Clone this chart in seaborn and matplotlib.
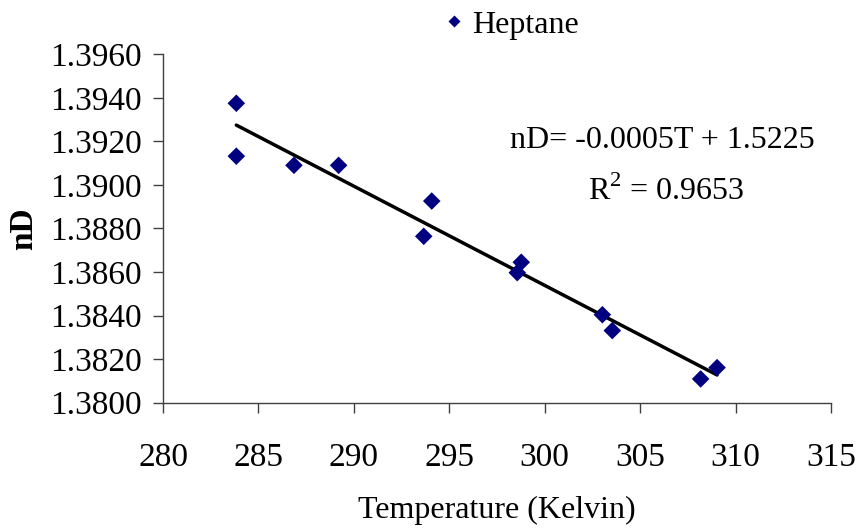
import matplotlib
matplotlib.use("Agg")
import matplotlib.pyplot as plt
from matplotlib.lines import Line2D
import seaborn as sns
import pandas as pd

# Refractive index of heptane versus temperature
temperature_k = [283.84, 283.84, 286.86, 289.20, 294.08, 293.66,
                 298.77, 298.56, 303.02, 303.54, 308.17, 309.03]
refractive_index = [1.39375, 1.39132, 1.39090, 1.39090, 1.38926, 1.38764,
                    1.38645, 1.38597, 1.38404, 1.38331, 1.38109, 1.38161]
series_name = "Heptane"
x_ticks = [280, 285, 290, 295, 300, 305, 310, 315]
y_ticks = [1.3800, 1.3820, 1.3840, 1.3860, 1.3880, 1.3900, 1.3920, 1.3940, 1.3960]
fit_equation = "nD= -0.0005T + 1.5225"
fit_r2 = "R$^2$ = 0.9653"

df = pd.DataFrame({"T": temperature_k, "nD": refractive_index})

sns.set_style("white")
plt.rcParams["font.family"] = ["Liberation Serif", "DejaVu Serif"]
plt.rcParams["mathtext.fontset"] = "custom"
plt.rcParams["mathtext.rm"] = "Liberation Serif"
for key in ("text.color", "axes.labelcolor", "xtick.labelcolor", "ytick.labelcolor"):
    plt.rcParams[key] = "black"

fig = plt.figure(figsize=(8.59, 5.29), dpi=100)
ax = fig.add_axes([0.1898, 0.2388, 0.7776, 0.6586])

sns.scatterplot(data=df, x="T", y="nD", ax=ax, marker="D", s=80,
                color="#000080", edgecolor="none", zorder=3, legend=False)
sns.regplot(data=df, x="T", y="nD", ax=ax, scatter=False, ci=None,
            line_kws={"color": "black", "linewidth": 2.5, "zorder": 2})

ax.set_xlim(280, 315)
ax.set_ylim(1.3800, 1.3960)
ax.set_xticks(x_ticks)
ax.set_yticks(y_ticks)
ax.set_yticklabels([f"{v:.4f}" for v in y_ticks])
ax.tick_params(axis="both", labelsize=24, length=7.5, width=1.0,
               color="#404040", direction="out", bottom=True, left=True)
ax.tick_params(axis="x", pad=21)
ax.tick_params(axis="y", pad=8)

for side in ("top", "right"):
    ax.spines[side].set_visible(False)
for side in ("left", "bottom"):
    ax.spines[side].set_color("#404040")
    ax.spines[side].set_linewidth(1.0)

ax.set_xlabel("Temperature (Kelvin)", fontsize=23, labelpad=17)
ax.set_ylabel("nD", fontsize=24, fontweight="bold", labelpad=8)

ax.text(0.747, 0.731, fit_equation, transform=ax.transAxes, ha="center",
        va="baseline", fontsize=23)
ax.text(0.753, 0.581, fit_r2, transform=ax.transAxes, ha="center",
        va="baseline", fontsize=23)

handle = Line2D([], [], linestyle="none", marker="D", markersize=6.5,
                markerfacecolor="#000080", markeredgecolor="none")
ax.legend([handle], [series_name], loc="center left",
          bbox_to_anchor=(0.515, 0.953), bbox_transform=fig.transFigure,
          frameon=False, fontsize=23, handlelength=0.7, handletextpad=0.22,
          borderpad=0, borderaxespad=0)

fig.savefig("out.png", dpi=100)
